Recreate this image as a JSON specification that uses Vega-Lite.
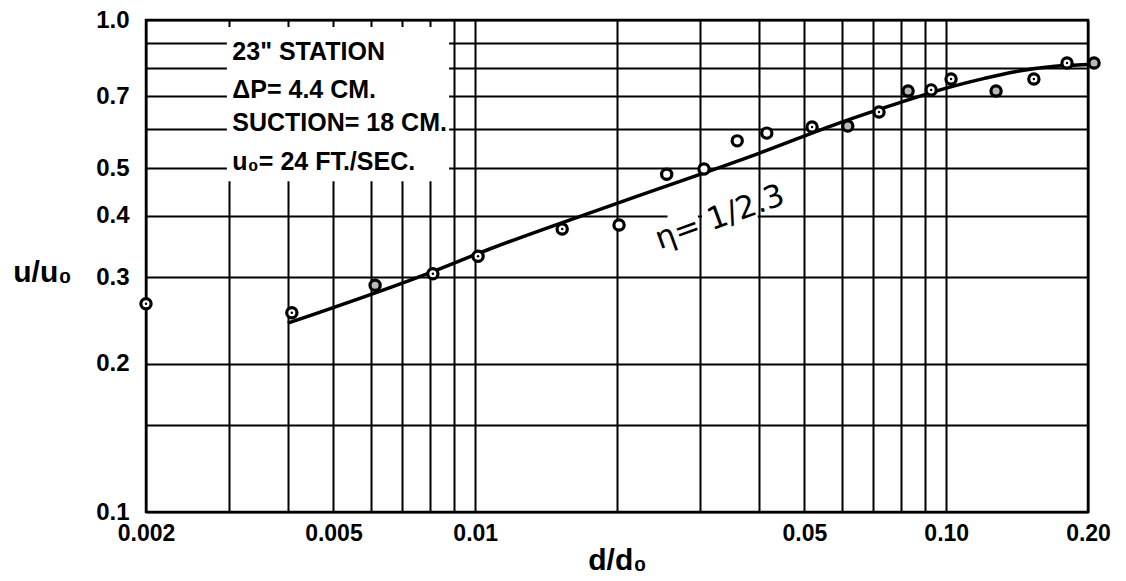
{
  "$schema": "https://vega.github.io/schema/vega-lite/v6.json",
  "width": 942,
  "height": 492,
  "autosize": {"type": "none"},
  "padding": {"left": 146, "top": 20, "right": 38, "bottom": 69},
  "background": "white",
  "config": {
    "view": {"stroke": "black", "strokeWidth": 2.5},
    "font": "Liberation Sans"
  },
  "datasets": {
    "points": [
      {"x": 0.002, "y": 0.265, "marker": "dot"},
      {"x": 0.00408, "y": 0.254, "marker": "dot"},
      {"x": 0.00613, "y": 0.289, "marker": "shaded"},
      {"x": 0.00813, "y": 0.305, "marker": "dot"},
      {"x": 0.01014, "y": 0.331, "marker": "dot"},
      {"x": 0.0153, "y": 0.376, "marker": "dot"},
      {"x": 0.0202, "y": 0.383, "marker": "open"},
      {"x": 0.0255, "y": 0.486, "marker": "open"},
      {"x": 0.0306, "y": 0.498, "marker": "open"},
      {"x": 0.036, "y": 0.568, "marker": "open"},
      {"x": 0.0416, "y": 0.589, "marker": "open"},
      {"x": 0.0519, "y": 0.606, "marker": "dot"},
      {"x": 0.0618, "y": 0.609, "marker": "shaded"},
      {"x": 0.072, "y": 0.65, "marker": "dot"},
      {"x": 0.083, "y": 0.717, "marker": "shaded"},
      {"x": 0.0929, "y": 0.721, "marker": "dot"},
      {"x": 0.1024, "y": 0.759, "marker": "dot"},
      {"x": 0.1276, "y": 0.717, "marker": "shaded"},
      {"x": 0.1535, "y": 0.759, "marker": "dot"},
      {"x": 0.1805, "y": 0.818, "marker": "dot"},
      {"x": 0.206, "y": 0.818, "marker": "shaded"}
    ],
    "curve": [
      {"x": 0.004, "y": 0.242},
      {"x": 0.0077, "y": 0.302},
      {"x": 0.0107, "y": 0.342},
      {"x": 0.02, "y": 0.424},
      {"x": 0.0403, "y": 0.537},
      {"x": 0.06, "y": 0.62},
      {"x": 0.08, "y": 0.68},
      {"x": 0.1, "y": 0.727},
      {"x": 0.12, "y": 0.76},
      {"x": 0.14, "y": 0.785},
      {"x": 0.17, "y": 0.805},
      {"x": 0.2, "y": 0.812}
    ],
    "boxes": [
      {"x": 0.00297, "x2": 0.0088, "y": 0.47, "y2": 0.968},
      {"x": 0.0256, "x2": 0.0297, "y": 0.393, "y2": 0.407},
      {"x": 0.0303, "x2": 0.0398, "y": 0.393, "y2": 0.407}
    ],
    "notes": [
      {"x": 0.00305, "y": 0.861, "label": "23\" STATION"},
      {"x": 0.00305, "y": 0.72, "label": "ΔP= 4.4 CM."},
      {"x": 0.00305, "y": 0.618, "label": "SUCTION= 18 CM."},
      {"x": 0.00305, "y": 0.515, "label": "u₀= 24 FT./SEC."}
    ],
    "eta": [
      {"x": 0.0331, "y": 0.396, "label": "η= 1/2.3"}
    ]
  },
  "encoding": {
    "x": {
      "field": "x",
      "type": "quantitative",
      "scale": {"type": "log", "domain": [0.002, 0.2], "nice": false},
      "axis": {
        "values": [0.002, 0.003, 0.004, 0.005, 0.006, 0.007, 0.008, 0.009, 0.01, 0.02, 0.03, 0.04, 0.05, 0.06, 0.07, 0.08, 0.09, 0.1, 0.2],
        "labelExpr": "datum.value==0.002?'0.002':datum.value==0.005?'0.005':datum.value==0.01?'0.01':datum.value==0.05?'0.05':datum.value==0.1?'0.10':datum.value==0.2?'0.20':''",
        "grid": true,
        "gridColor": "black",
        "gridWidth": 2,
        "gridOpacity": 1,
        "domain": false,
        "ticks": false,
        "labelOverlap": false,
        "labelFlush": false,
        "labelFont": "Liberation Sans",
        "labelFontWeight": "bold",
        "labelFontSize": 23,
        "labelColor": "black",
        "labelPadding": 10,
        "title": "d/d₀",
        "titleFont": "Liberation Sans",
        "titleFontWeight": "bold",
        "titleFontSize": 30,
        "titleColor": "black",
        "titlePadding": 0
      }
    },
    "y": {
      "field": "y",
      "type": "quantitative",
      "scale": {"type": "log", "domain": [0.1, 1], "nice": false},
      "axis": {
        "values": [0.1, 0.15, 0.2, 0.3, 0.4, 0.5, 0.6, 0.7, 0.8, 0.9, 1],
        "labelExpr": "(datum.value==0.15||datum.value==0.6||datum.value==0.8||datum.value==0.9)?'':format(datum.value,'.1f')",
        "grid": true,
        "gridColor": "black",
        "gridWidth": 2,
        "gridOpacity": 1,
        "domain": false,
        "ticks": false,
        "labelOverlap": false,
        "labelFlush": false,
        "labelFont": "Liberation Sans",
        "labelFontWeight": "bold",
        "labelFontSize": 24,
        "labelColor": "black",
        "labelPadding": 17,
        "title": "u/u₀",
        "titleFont": "Liberation Sans",
        "titleFontWeight": "bold",
        "titleFontSize": 30,
        "titleColor": "black",
        "titleAngle": 0,
        "titleX": -104,
        "titleY": 252,
        "titleAlign": "center",
        "titleBaseline": "middle"
      }
    }
  },
  "layer": [
    {
      "data": {"name": "boxes"},
      "mark": {"type": "rect", "fill": "white", "stroke": null},
      "encoding": {
        "x2": {"field": "x2"},
        "y2": {"field": "y2"}
      }
    },
    {
      "data": {"name": "curve"},
      "mark": {"type": "line", "color": "black", "strokeWidth": 3.5, "interpolate": "monotone"},
      "encoding": {}
    },
    {
      "data": {"name": "points"},
      "mark": {"type": "circle", "size": 105, "stroke": "black", "strokeWidth": 3.2, "opacity": 1, "fillOpacity": 1},
      "encoding": {
        "fill": {
          "field": "marker",
          "type": "nominal",
          "scale": {"domain": ["dot", "open", "shaded"], "range": ["white", "white", "#b8b8b8"]},
          "legend": null
        }
      }
    },
    {
      "data": {"name": "points"},
      "transform": [{"filter": "datum.marker=='dot'"}],
      "mark": {"type": "circle", "size": 6, "color": "black", "opacity": 1}
    },
    {
      "data": {"name": "notes"},
      "mark": {"type": "text", "align": "left", "baseline": "middle", "font": "Liberation Sans", "fontWeight": "bold", "fontSize": 25, "color": "black"},
      "encoding": {"text": {"field": "label"}}
    },
    {
      "data": {"name": "eta"},
      "mark": {"type": "text", "align": "center", "baseline": "middle", "font": "DejaVu Sans", "fontSize": 31, "angle": -20, "color": "black"},
      "encoding": {"text": {"field": "label"}}
    }
  ]
}
